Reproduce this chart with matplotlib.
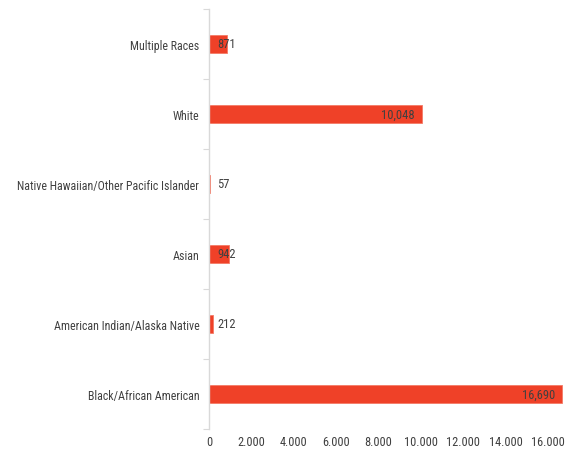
import matplotlib.pyplot as plt
from matplotlib import font_manager

names = {f.name for f in font_manager.fontManager.ttflist}
main_font = 'Lato'
for cand in ['Roboto Condensed', 'Open Sans Condensed', 'Liberation Sans Narrow']:
    if cand in names:
        main_font = cand
        break
plt.rcParams['font.family'] = [main_font, 'DejaVu Sans']

# data (bottom to top)
categories = ['Black/African American', 'American Indian/Alaska Native', 'Asian',
              'Native Hawaiian/Other Pacific Islander', 'White', 'Multiple Races']
values = [16690, 212, 942, 57, 10048, 871]
value_labels = ['16,690', '212', '942', '57', '10,048', '871']
xticks = [0, 2000, 4000, 6000, 8000, 10000, 12000, 14000, 16000]
xtick_labels = ['0', '2.000', '4.000', '6.000', '8.000', '10.000', '12.000', '14.000', '16.000']

text_col = '#404040'
bar_col = '#EF4128'
fs = 7.7 if main_font == 'Lato' else 8.6

fig = plt.figure(figsize=(5.78, 4.52), dpi=100)
ax = fig.add_axes([209 / 578, 22 / 452, 360 / 578, 420 / 452])

ypos = list(range(len(categories)))
ax.barh(ypos, values, height=0.27, color=bar_col, edgecolor='#F47A66', linewidth=0.6)

for y, v, lab in zip(ypos, values, value_labels):
    if v > 5000:
        ax.annotate(lab, (v, y), xytext=(-5, 0), textcoords='offset points',
                    ha='right', va='center', fontsize=fs + 0.4, color=text_col)
    else:
        ax.annotate(lab, (0, y), xytext=(6, 0), textcoords='offset points',
                    ha='left', va='center', fontsize=fs + 0.4, color=text_col)

ax.set_xlim(0, 17000)
ax.set_ylim(-0.5, len(categories) - 0.5)
ax.set_xticks(xticks)
ax.set_xticklabels(xtick_labels)
ax.set_yticks(ypos)
ax.set_yticklabels(categories)
ax.set_yticks([i - 0.5 for i in range(len(categories) + 1)], minor=True)

ax.tick_params(axis='x', length=0, pad=4, labelsize=fs + 0.3, labelcolor=text_col)
ax.tick_params(axis='y', which='major', length=0, pad=7, labelsize=fs, labelcolor=text_col)
ax.tick_params(axis='y', which='minor', length=4, width=0.8, color='#D9D9D9')

for s in ['top', 'right', 'bottom']:
    ax.spines[s].set_visible(False)
ax.spines['left'].set_color('#D9D9D9')
ax.spines['left'].set_linewidth(1)

fig.savefig('out.png', dpi=100)
